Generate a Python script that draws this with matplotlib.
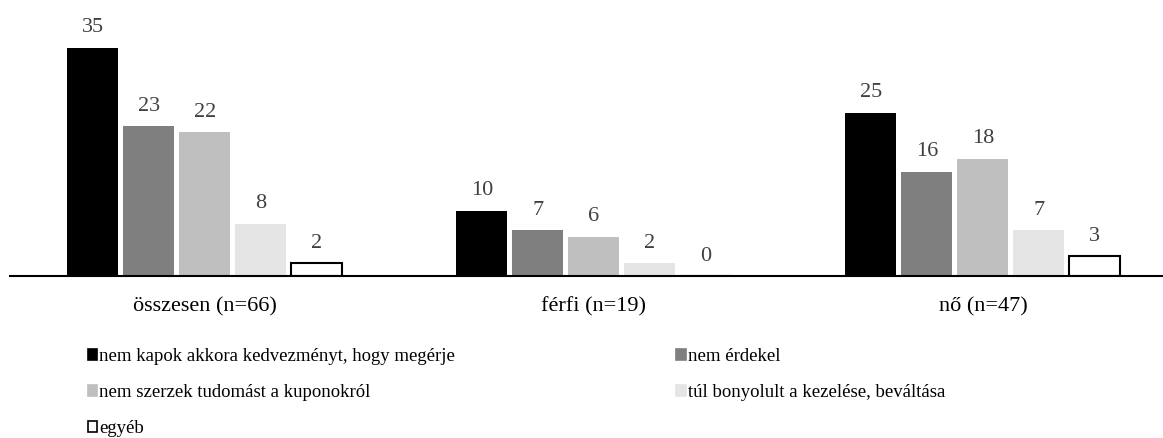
import numpy as np
import matplotlib.pyplot as plt
from matplotlib.patches import Patch

plt.rcParams['font.family'] = ['Liberation Serif', 'DejaVu Serif']

groups = ["összesen (n=66)", "férfi (n=19)", "nő (n=47)"]
series = [
    "nem kapok akkora kedvezményt, hogy megérje",
    "nem érdekel",
    "nem szerzek tudomást a kuponokról",
    "túl bonyolult a kezelése, beváltása",
    "egyéb",
]
values = [
    [35, 10, 25],
    [23, 7, 16],
    [22, 6, 18],
    [8, 2, 7],
    [2, 0, 3],
]
colors = ["#000000", "#7f7f7f", "#bfbfbf", "#e5e5e5", "#ffffff"]

fig = plt.figure(figsize=(11.63, 4.38), dpi=100)
ax = fig.add_axes([10 / 1163, 162 / 438, 1153 / 1163, 261 / 438])

x = np.arange(len(groups))
step = 0.144
width = 0.131
for i, (name, vals, col) in enumerate(zip(series, values, colors)):
    pos = x + (i - 2) * step
    edge = "black" if col == "#ffffff" else col
    lw = 1.5 if col == "#ffffff" else 0
    ax.bar(pos, vals, width, color=col, edgecolor=edge, linewidth=lw)
    for p, v in zip(pos, vals):
        ax.annotate(str(v), (p, v), xytext=(0, 7.5), textcoords="offset points",
                    ha="center", va="bottom", fontsize=16, color="#404040")

ax.set_xlim(-0.501, 2.463)
ax.set_ylim(0, 40)
for s in ["top", "left", "right"]:
    ax.spines[s].set_visible(False)
ax.spines["bottom"].set_linewidth(1.5)
ax.set_yticks([])
ax.set_xticks(x)
ax.set_xticklabels(groups, fontsize=16)
ax.tick_params(axis="x", length=0, pad=15)

handles = [Patch(facecolor=c, edgecolor="black" if c == "#ffffff" else c, linewidth=1.2)
           for c in colors]
order = [0, 2, 4, 1, 3]
fig.legend([handles[k] for k in order], [series[k] for k in order],
           ncol=2, loc="upper left", bbox_to_anchor=(88 / 1163, 1 - 348 / 438),
           frameon=False, fontsize=13.5, handlelength=0.5, handleheight=0.5,
           handletextpad=0.1, columnspacing=11.8, labelspacing=1.02,
           borderaxespad=0, borderpad=0)

fig.savefig("out.png", dpi=100)
